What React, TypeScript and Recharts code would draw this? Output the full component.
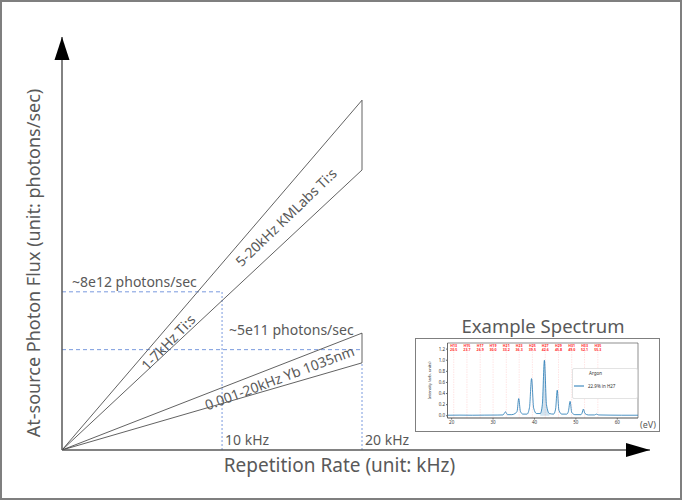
import React from 'react';
import {
  ComposedChart,
  Line,
  Area,
  XAxis,
  YAxis,
  ReferenceLine,
  ReferenceDot,
  ReferenceArea,
} from 'recharts';

const FONT = '"Noto Sans", "Open Sans", sans-serif';
const GREY = '#595959';

// schematic: x is repetition rate (kHz), y is relative flux (arbitrary units)
const rateMax = 39.2;
const fluxMax = 100;

const tiWedge = [
  { x: 0, y: 0 },
  { x: 20, y: 84.7 },
  { x: 20, y: 67.8 },
  { x: 0, y: 0 },
];

const ybWedge = [
  { x: 0, y: 0 },
  { x: 20, y: 28.3 },
  { x: 20, y: 21.1 },
  { x: 0, y: 0 },
];

const fluxLabels = ['~8e12 photons/sec', '~5e11 photons/sec'];
const fluxLevels = [38.3, 24.3];
const rateLabels = ['10 kHz', '20 kHz'];
const rateMarks = [10.67, 20];
const rateMarkTops = [38.3, 21.1];

// inset spectrum (eV vs arb. units)
const spectrum = [
  { ev: 19, v: 0.01 }, { ev: 22, v: 0.012 }, { ev: 25, v: 0.01 }, { ev: 28, v: 0.012 },
  { ev: 31, v: 0.013 }, { ev: 32.4, v: 0.015 }, { ev: 33.0, v: 0.07 }, { ev: 33.5, v: 0.02 },
  { ev: 34.5, v: 0.02 }, { ev: 35.3, v: 0.04 }, { ev: 35.8, v: 0.08 }, { ev: 36.2, v: 0.31 },
  { ev: 36.6, v: 0.08 }, { ev: 37.2, v: 0.03 }, { ev: 38.2, v: 0.03 }, { ev: 38.8, v: 0.15 },
  { ev: 39.3, v: 0.67 }, { ev: 39.8, v: 0.14 }, { ev: 40.5, v: 0.04 }, { ev: 41.4, v: 0.04 },
  { ev: 41.9, v: 0.2 }, { ev: 42.4, v: 1.0 }, { ev: 42.9, v: 0.2 }, { ev: 43.6, v: 0.04 },
  { ev: 44.6, v: 0.03 }, { ev: 45.1, v: 0.12 }, { ev: 45.5, v: 0.46 }, { ev: 45.9, v: 0.1 },
  { ev: 46.6, v: 0.03 }, { ev: 47.8, v: 0.03 }, { ev: 48.2, v: 0.08 }, { ev: 48.6, v: 0.26 },
  { ev: 49.0, v: 0.06 }, { ev: 49.8, v: 0.02 }, { ev: 51.2, v: 0.02 }, { ev: 51.5, v: 0.05 },
  { ev: 51.8, v: 0.12 }, { ev: 52.2, v: 0.04 }, { ev: 53, v: 0.015 }, { ev: 54.5, v: 0.015 },
  { ev: 55.0, v: 0.03 }, { ev: 55.5, v: 0.015 }, { ev: 58, v: 0.012 }, { ev: 61, v: 0.01 },
  { ev: 65, v: 0.01 },
];

const harmonicNames = ['H13', 'H15', 'H17', 'H19', 'H21', 'H23', 'H25', 'H27', 'H29', 'H31', 'H33', 'H35'];
const harmonicEv = [20.5, 23.7, 26.9, 30.0, 33.2, 36.3, 39.5, 42.6, 45.8, 49.0, 52.1, 55.3];
const evTicks = [20, 30, 40, 50, 60];
const intensityTicks = [0, 0.2, 0.4, 0.6, 0.8, 1.0, 1.2];

const textShape = (text: string, anchor: string = 'start', angle = 0, size = 14) => (p: any) => (
  <text
    x={p.cx}
    y={p.cy}
    fill={GREY}
    fontSize={size}
    fontFamily={FONT}
    textAnchor={anchor}
    dominantBaseline={angle ? 'central' : 'auto'}
    transform={angle ? `rotate(${angle} ${p.cx} ${p.cy})` : undefined}
  >
    {text}
  </text>
);

const Inset = () => (
  <>
    <div
      style={{
        position: 'absolute', left: 415, top: 316, width: 256, textAlign: 'center',
        fontFamily: FONT, fontSize: 18.5, lineHeight: '19px', color: GREY,
      }}
    >
      Example Spectrum
    </div>
    <div
      style={{
        position: 'absolute', left: 415, top: 338, width: 245, height: 94,
        border: '1.5px solid #7f7f7f', boxSizing: 'border-box', background: '#fff',
      }}
    >
      <ComposedChart width={242} height={91} margin={{ top: 4, right: 20, bottom: 0, left: 0 }}>
        <XAxis
          type="number"
          dataKey="ev"
          domain={[19, 65]}
          allowDataOverflow
          ticks={evTicks}
          height={12}
          tick={{ fontSize: 4.5, fill: '#333', fontFamily: FONT }}
          tickSize={1.5}
          tickMargin={1}
          axisLine={{ stroke: '#444', strokeWidth: 0.5 }}
          label={{
            content: (p: any) => (
              <text x={p.viewBox.x + p.viewBox.width + 2} y={p.viewBox.y + 10} fontSize={9}
                fontFamily={FONT} fill={GREY}>(eV)</text>
            ),
          }}
        />
        <YAxis
          type="number"
          dataKey="v"
          domain={[-0.04, 1.31]}
          allowDataOverflow
          ticks={intensityTicks}
          width={31.5}
          tickFormatter={(v: number) => v.toFixed(1)}
          tick={{ fontSize: 4.5, fill: '#333', fontFamily: FONT }}
          tickSize={1.5}
          tickMargin={1}
          axisLine={{ stroke: '#444', strokeWidth: 0.5 }}
          label={{
            content: (p: any) => {
              const cx = p.viewBox.x + 15;
              const cy = p.viewBox.y + p.viewBox.height / 2;
              return (
                <text x={cx} y={cy} fontSize={4} fontFamily={FONT} fill="#333" textAnchor="middle"
                  transform={`rotate(-90 ${cx} ${cy})`}>Intensity (arb. units)</text>
              );
            },
          }}
        />
        <ReferenceArea x1={19} x2={65} y1={-0.04} y2={1.31} fill="none" stroke="#444" strokeWidth={0.6} ifOverflow="visible" />
        {harmonicEv.map((e) => (
          <ReferenceLine key={'l' + e} x={e} stroke="#ff6b6b" strokeOpacity={0.35} strokeWidth={0.5} strokeDasharray="1.5 1" />
        ))}
        {harmonicEv.map((e, i) => (
          <ReferenceDot
            key={'t' + e}
            x={e}
            y={1.23}
            r={0}
            shape={(p: any) => (
              <text x={p.cx} y={p.cy} fontSize={3.6} fontWeight="bold" fill="#ff2a2a" fontFamily={FONT} textAnchor="middle">
                <tspan x={p.cx}>{harmonicNames[i]}</tspan>
                <tspan x={p.cx} dy={4}>{harmonicEv[i].toFixed(1)}</tspan>
              </text>
            )}
          />
        ))}
        <Area
          data={spectrum.filter((d) => d.ev >= 41.4 && d.ev <= 43.6)}
          dataKey="v"
          type="monotone"
          stroke="none"
          fill="#1f77b4"
          fillOpacity={0.2}
          isAnimationActive={false}
        />
        <Line
          data={spectrum}
          dataKey="v"
          type="monotone"
          stroke="#1f77b4"
          strokeWidth={0.8}
          dot={false}
          isAnimationActive={false}
        />
      </ComposedChart>
      <svg style={{ position: 'absolute', left: 155.5, top: 28.5 }} width={66} height={31}>
        <rect x={0.5} y={0.5} width={65} height={30} rx={1.5} fill="#fff" stroke="#d0d0d0" strokeWidth={0.6} />
        <text x={17} y={7} fontSize={4.5} fill="#333" fontFamily={FONT}>Argon</text>
        <line x1={2} x2={12} y1={18} y2={18} stroke="#1f77b4" strokeWidth={1} />
        <text x={16} y={19.5} fontSize={4.5} fill="#333" fontFamily={FONT}>22.9% in H27</text>
      </svg>
    </div>
  </>
);

export default function App() {
  return (
    <div style={{ position: 'absolute', left: 0, top: 0, width: 682, height: 500, background: '#fff', fontFamily: FONT }}>
      <ComposedChart width={682} height={500} margin={{ top: 37, right: 32, bottom: 0, left: 0 }}>
        <XAxis
          type="number"
          dataKey="x"
          domain={[0, rateMax]}
          allowDataOverflow
          height={50}
          tick={false}
          tickLine={false}
          axisLine={{ stroke: GREY, strokeWidth: 1.5 }}
          label={{
            content: (p: any) => (
              <text x={p.viewBox.x + 277.5} y={p.viewBox.y + 22} fontSize={19} fontFamily={FONT}
                fill={GREY} textAnchor="middle">Repetition Rate (unit: kHz)</text>
            ),
          }}
        />
        <YAxis
          type="number"
          dataKey="y"
          domain={[0, fluxMax]}
          allowDataOverflow
          width={62}
          tick={false}
          tickLine={false}
          axisLine={{ stroke: GREY, strokeWidth: 1.5 }}
          label={{
            content: (p: any) => {
              const cx = p.viewBox.x + 33;
              const cy = p.viewBox.y + 226;
              return (
                <text x={cx} y={cy} fontSize={18} fontFamily={FONT} fill={GREY} textAnchor="middle"
                  dominantBaseline="central" transform={`rotate(-90 ${cx} ${cy})`}>
                  At-source Photon Flux (unit: photons/sec)
                </text>
              );
            },
          }}
        />

        {fluxLevels.map((f, i) => (
          <ReferenceLine
            key={'h' + i}
            segment={[{ x: 0, y: f }, { x: rateMarks[i], y: f }]}
            stroke="#7a9ade"
            strokeWidth={1}
            strokeDasharray="4 3"
          />
        ))}
        {rateMarks.map((r, i) => (
          <ReferenceLine
            key={'v' + i}
            segment={[{ x: r, y: 0 }, { x: r, y: rateMarkTops[i] }]}
            stroke="#7a9ade"
            strokeWidth={1}
            strokeDasharray="2 2"
          />
        ))}

        <Line data={tiWedge} dataKey="y" type="linear" stroke="#3a3a3a" strokeWidth={0.8} dot={false} isAnimationActive={false} />
        <Line data={ybWedge} dataKey="y" type="linear" stroke="#3a3a3a" strokeWidth={0.8} dot={false} isAnimationActive={false} />

        <ReferenceDot x={0.67} y={39.5} r={0} shape={textShape(fluxLabels[0])} />
        <ReferenceDot x={11.13} y={27.85} r={0} shape={textShape(fluxLabels[1])} />
        <ReferenceDot x={rateMarks[0] + 0.2} y={1.2} r={0} shape={textShape(rateLabels[0])} />
        <ReferenceDot x={rateMarks[1] + 0.2} y={1.2} r={0} shape={textShape(rateLabels[1])} />
        <ReferenceDot x={7.07} y={26.15} r={0} shape={textShape('1-7kHz Ti:s', 'middle', -46)} />
        <ReferenceDot x={14.93} y={56.4} r={0} shape={textShape('5-20kHz KMLabs Ti:s', 'middle', -44)} />
        <ReferenceDot x={14.5} y={17.5} r={0} shape={textShape('0.001-20kHz Yb 1035nm', 'middle', -20.5)} />

        <ReferenceDot
          x={0}
          y={fluxMax}
          r={0}
          shape={(p: any) => (
            <polygon points={`${p.cx},${p.cy} ${p.cx - 7.5},${p.cy + 23} ${p.cx + 7.5},${p.cy + 23}`} fill="#000" />
          )}
        />
        <ReferenceDot
          x={rateMax}
          y={0}
          r={0}
          shape={(p: any) => (
            <polygon points={`${p.cx},${p.cy} ${p.cx - 24},${p.cy - 7} ${p.cx - 24},${p.cy + 7}`} fill="#000" />
          )}
        />
      </ComposedChart>
      <Inset />
      <div
        style={{
          position: 'absolute', left: 0, top: 0, width: 682, height: 500,
          border: '2px solid #7f7f7f', boxSizing: 'border-box', pointerEvents: 'none',
        }}
      />
    </div>
  );
}
